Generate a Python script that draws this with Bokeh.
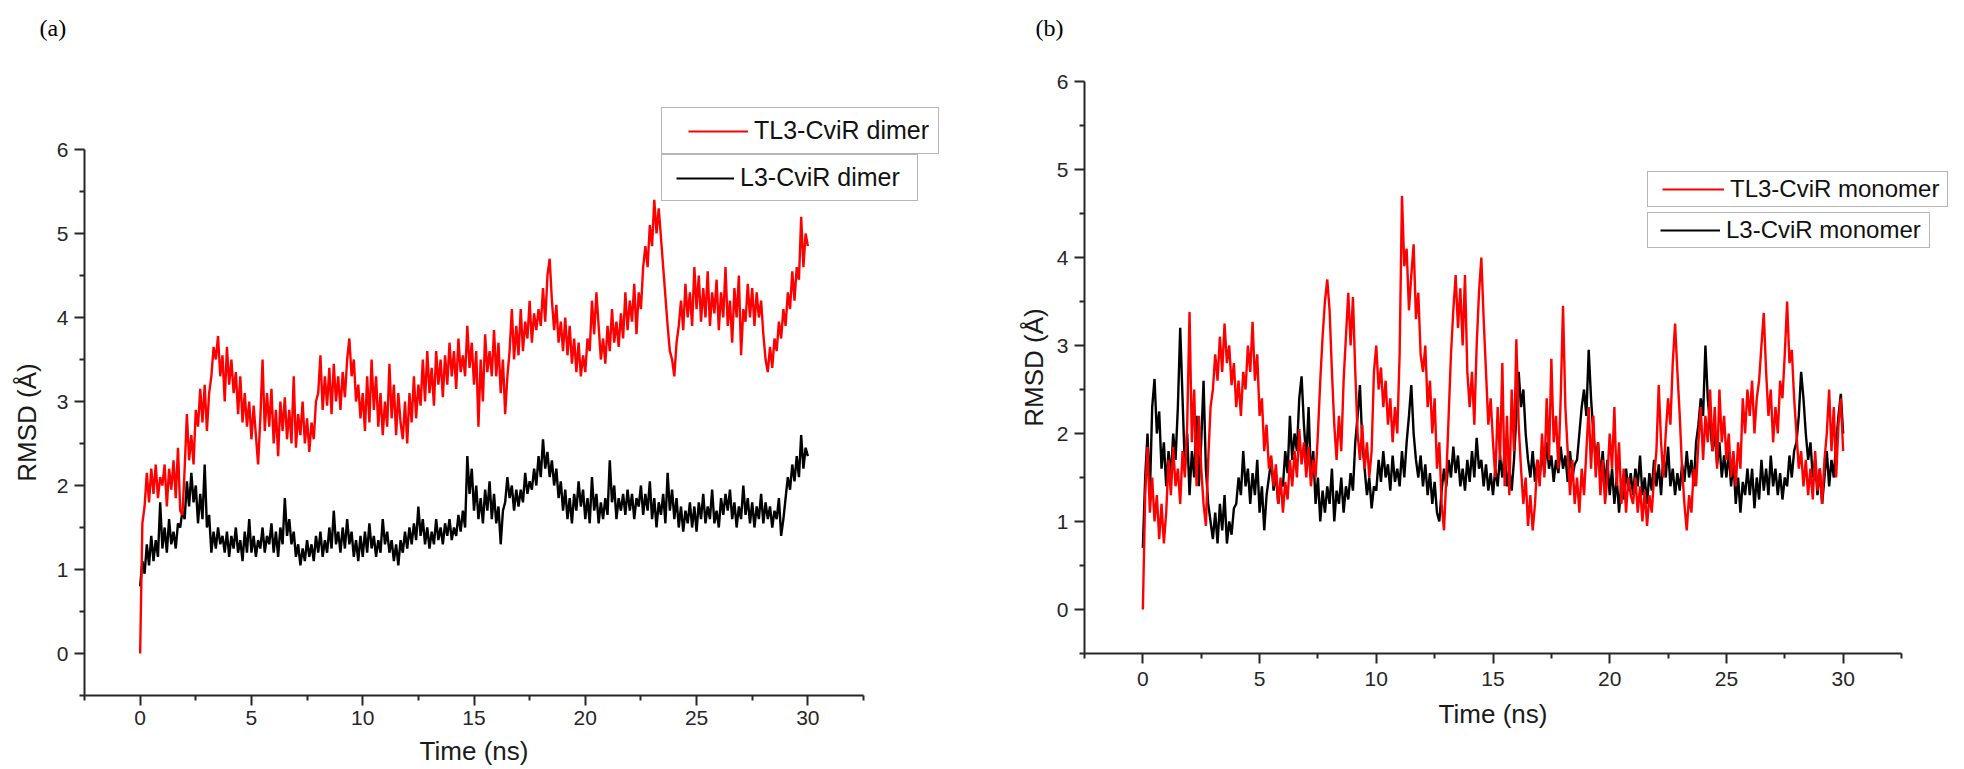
from bokeh.plotting import figure
from bokeh.models import (ColumnDataSource, Range1d, FixedTicker, Legend, LegendItem, Label)
from bokeh.embed import file_html
from bokeh.resources import INLINE

time_step_ns = 0.1

dimer_tl3 = [
    0.0, 1.55, 1.75, 2.15, 1.8, 2.2, 1.9, 2.25, 1.85, 2.1,
    2.0, 2.25, 1.75, 2.2, 1.95, 2.3, 1.85, 2.45, 1.7, 1.65,
    2.2, 2.85, 2.3, 2.6, 2.25, 2.9, 2.7, 3.15, 2.75, 3.2,
    2.65, 3.1, 3.3, 3.65, 3.5, 3.78, 3.3, 3.55, 3.0, 3.65,
    3.2, 3.5, 3.1, 3.35, 2.85, 3.3, 2.75, 3.1, 2.7, 3.0,
    2.55, 2.95, 2.6, 2.25, 2.8, 3.5, 2.65, 3.1, 2.7, 3.15,
    2.5, 2.9, 2.35, 3.0, 2.65, 3.05, 2.55, 2.9, 2.5, 3.3,
    2.45, 2.85, 2.6, 3.0, 2.5, 2.8, 2.4, 2.75, 2.55, 3.0,
    3.1, 3.55, 2.9, 3.3, 2.95, 3.4, 2.85, 3.45, 3.0, 3.3,
    2.9, 3.35, 3.05, 3.5, 3.75, 3.3, 3.5, 3.0, 3.2, 2.8,
    3.1, 2.65, 3.3, 2.75, 3.5, 2.9, 3.3, 2.7, 3.1, 2.6,
    3.0, 2.7, 3.45, 2.8, 3.2, 2.6, 3.1, 2.75, 2.55, 3.0,
    2.5, 3.1, 2.75, 3.3, 2.8, 3.2, 2.95, 3.5, 3.0, 3.6,
    3.1, 3.4, 2.95, 3.6, 3.2, 3.5, 3.05, 3.55, 3.2, 3.7,
    3.3, 3.6, 3.15, 3.75, 3.35, 3.55, 3.3, 3.9, 3.4, 3.7,
    3.2, 3.6, 2.7, 3.5, 3.0, 3.8, 3.35, 3.6, 3.3, 3.85,
    3.3, 3.7, 3.1, 3.5, 2.85, 3.3, 3.6, 4.1, 3.5, 3.9,
    3.55, 4.1, 3.6, 3.95, 3.75, 4.2, 3.7, 4.05, 3.85, 4.1,
    3.9, 4.35, 3.95, 4.5, 4.7, 4.2, 3.85, 4.15, 3.7, 3.95,
    3.6, 4.0, 3.55, 3.9, 3.45, 3.75, 3.35, 3.7, 3.3, 3.55,
    3.35, 3.75, 3.6, 4.2, 3.8, 4.3, 3.9, 3.5, 3.75, 3.45,
    3.9, 3.6, 4.1, 3.7, 3.95, 3.65, 4.05, 3.75, 4.3, 3.85,
    4.2, 3.95, 4.4, 3.8, 4.3, 4.1, 4.6, 4.85, 4.6, 5.1,
    4.85, 5.4, 5.0, 5.3, 4.95, 4.6, 4.25, 3.9, 3.6, 3.5,
    3.3, 3.7, 3.9, 4.2, 3.85, 4.4, 4.0, 4.3, 3.9, 4.6,
    4.1, 4.5, 3.95, 4.35, 4.0, 4.55, 3.9, 4.3, 4.05, 4.45,
    3.85, 4.3, 4.0, 4.6, 3.9, 4.2, 3.7, 4.35, 4.0, 4.5,
    3.55, 4.1, 3.95, 4.4, 4.0, 4.35, 3.9, 4.3, 4.0, 4.2,
    3.8, 3.5, 3.35, 3.65, 3.4, 3.75, 3.6, 3.95, 3.75, 4.1,
    3.9, 4.3, 4.1, 4.55, 4.2, 4.6, 4.45, 5.2, 4.6, 5.0, 4.85,
]

dimer_l3 = [
    0.8, 1.1, 0.95, 1.3, 1.05, 1.4, 1.1, 1.35, 1.15, 1.8,
    1.25, 1.5, 1.2, 1.6, 1.3, 1.45, 1.25, 1.55, 1.5, 1.7,
    1.6, 2.05, 1.75, 2.15, 1.8, 2.0, 1.55, 1.9, 1.6, 2.25,
    1.5, 1.65, 1.2, 1.45, 1.25, 1.5, 1.3, 1.4, 1.2, 1.45,
    1.15, 1.4, 1.25, 1.5, 1.2, 1.35, 1.1, 1.45, 1.2, 1.6,
    1.2, 1.4, 1.15, 1.35, 1.25, 1.5, 1.2, 1.4, 1.3, 1.55,
    1.2, 1.45, 1.15, 1.5, 1.3, 1.85, 1.4, 1.6, 1.3, 1.45,
    1.15, 1.3, 1.05, 1.25, 1.1, 1.35, 1.15, 1.3, 1.1, 1.4,
    1.2, 1.45, 1.15, 1.35, 1.2, 1.5, 1.25, 1.7, 1.3, 1.45,
    1.2, 1.5, 1.25, 1.6, 1.3, 1.45, 1.15, 1.35, 1.1, 1.4,
    1.15, 1.45, 1.2, 1.55, 1.25, 1.4, 1.15, 1.35, 1.2, 1.6,
    1.3, 1.45, 1.2, 1.35, 1.1, 1.3, 1.05, 1.35, 1.2, 1.45,
    1.25, 1.5, 1.3, 1.55, 1.35, 1.75, 1.4, 1.6, 1.3, 1.5,
    1.25, 1.45, 1.3, 1.6, 1.35, 1.5, 1.3, 1.55, 1.4, 1.6,
    1.35, 1.5, 1.4, 1.65, 1.45, 1.7, 1.5, 2.35, 1.9, 2.2,
    1.7, 2.0, 1.6, 1.85, 1.55, 1.95, 1.7, 2.05, 1.6, 1.9,
    1.55, 1.75, 1.3, 1.7, 1.8, 2.1, 1.85, 2.0, 1.7, 1.95,
    1.75, 1.95, 1.8, 2.15, 1.9, 2.05, 1.95, 2.2, 2.0, 2.35,
    2.1, 2.55, 2.2, 2.4, 2.1, 2.3, 2.0, 2.2, 1.85, 2.05,
    1.7, 1.95, 1.6, 1.85, 1.55, 1.9, 1.7, 2.05, 1.75, 1.95,
    1.6, 1.85, 1.55, 2.1, 1.7, 1.9, 1.55, 1.8, 1.6, 1.85,
    1.65, 2.3, 1.8, 2.0, 1.6, 1.85, 1.7, 1.9, 1.65, 1.95,
    1.7, 1.9, 1.6, 1.85, 1.75, 2.0, 1.65, 1.9, 1.7, 2.05,
    1.6, 1.85, 1.5, 1.8, 1.65, 1.9, 1.55, 2.15, 1.7, 1.95,
    1.6, 1.85, 1.5, 1.75, 1.45, 1.7, 1.55, 1.8, 1.5, 1.75,
    1.45, 1.8, 1.6, 1.9, 1.55, 1.75, 1.6, 1.95, 1.55, 1.7,
    1.5, 1.85, 1.65, 1.9, 1.7, 1.95, 1.6, 1.8, 1.5, 1.75,
    1.6, 2.0, 1.65, 1.85, 1.55, 1.8, 1.5, 1.75, 1.6, 1.9,
    1.55, 1.8, 1.6, 1.75, 1.5, 1.7, 1.6, 1.85, 1.4, 1.6,
    1.85, 2.1, 1.95, 2.25, 2.05, 2.35, 2.1, 2.6, 2.2, 2.45, 2.35,
]

monomer_tl3 = [
    0.0, 1.3, 1.85, 1.1, 1.5, 1.0, 1.3, 0.8, 1.2, 0.75,
    1.1, 1.7, 1.3, 1.85, 1.4, 1.6, 1.2, 1.8, 1.5, 2.1,
    3.38, 1.9, 2.5, 1.4, 2.2, 1.6, 1.2, 0.95, 1.7, 2.3,
    2.5, 2.9, 2.6, 3.1, 2.7, 3.25, 2.8, 3.0, 2.55, 2.8,
    2.3, 2.6, 2.2, 2.7, 2.5, 3.0, 2.7, 3.27, 2.6, 2.9,
    2.2, 2.4, 1.8, 2.1, 1.6, 1.75, 1.4, 1.65, 1.2, 1.5,
    1.1, 1.45, 1.25, 1.7, 1.4, 1.8, 1.5, 2.05, 1.65, 1.9,
    1.5, 1.85, 1.4, 1.7, 1.5, 2.0, 2.6, 3.1, 3.5, 3.75,
    3.4, 2.7, 2.1, 1.7, 2.2, 1.8, 2.6, 3.1, 3.6, 3.0,
    3.55, 2.7, 2.0, 1.7, 2.1, 1.6, 1.9, 1.5, 1.8, 2.7,
    3.0, 2.5, 2.75, 2.3, 2.6, 2.1, 2.4, 1.9, 2.3, 2.0,
    2.9, 4.7, 3.9, 4.1, 3.4, 3.8, 4.15, 3.3, 3.6, 2.9,
    2.7, 3.0, 2.3, 2.6, 2.0, 2.4, 1.6, 1.9, 1.2, 0.9,
    1.5, 2.2, 2.9, 3.4, 3.8, 3.2, 3.65, 3.0, 3.8, 2.7,
    2.3, 2.7, 2.1, 3.0, 3.6, 4.0, 3.3, 2.7, 2.1, 2.4,
    1.9, 1.5, 2.3, 1.7, 2.8, 1.4, 2.2, 1.3, 2.5, 1.8,
    3.07, 2.1, 1.6, 1.2, 1.5, 0.95, 1.3, 0.9, 1.2, 1.7,
    1.4, 2.0, 1.5, 2.4, 1.7, 2.85, 1.9, 2.2, 1.6, 2.4,
    3.45, 2.3, 1.8, 1.3, 1.7, 1.2, 1.5, 1.1, 1.6, 1.3,
    1.8, 2.3, 1.6, 2.2, 1.5, 1.9, 1.3, 1.7, 1.2, 1.5,
    2.0, 1.6, 2.3, 1.4, 1.9, 1.2, 1.6, 1.1, 1.5, 1.3,
    1.2, 1.5, 1.1, 1.4, 1.0, 1.35, 0.95, 1.3, 1.1, 1.5,
    1.8, 2.55, 1.9, 1.5, 2.0, 2.4, 2.1, 2.8, 3.25, 2.7,
    2.2, 1.6, 1.2, 0.9, 1.3, 1.1, 1.6, 1.4, 1.9, 2.3,
    1.7, 2.2, 1.9, 2.5, 1.8, 2.3, 1.6, 2.5, 1.9, 2.2,
    1.7, 2.0, 1.5, 1.8, 1.4, 1.9, 1.6, 2.4, 2.0, 2.5,
    2.2, 2.6, 2.0, 2.4, 2.6, 3.0, 3.37, 2.7, 2.2, 2.5,
    1.9, 2.3, 2.0, 2.6, 2.4, 2.9, 3.5, 2.8, 2.95, 2.4,
    2.0, 1.6, 1.8, 1.4, 1.7, 1.3, 1.6, 1.25, 1.8, 1.35,
    1.6, 1.2, 1.7, 2.0, 2.5, 1.8, 2.3, 1.5, 2.1, 2.4, 1.8,
]

monomer_l3 = [
    0.7, 1.5, 2.0, 1.3, 2.3, 2.62, 2.0, 2.25, 1.6, 1.9,
    1.4, 1.8, 1.5, 2.0, 1.7, 2.3, 3.2, 2.4, 1.6, 2.0,
    1.3, 1.8, 1.5, 2.2, 1.4, 1.9, 2.6, 1.6, 1.2, 1.0,
    0.8, 1.1, 0.75, 1.2, 0.9, 1.3, 0.75, 1.0, 0.85, 1.15,
    1.2, 1.5, 1.3, 1.8, 1.4, 1.6, 1.2, 1.55, 1.3, 1.7,
    1.1, 1.4, 0.9, 1.3, 1.5, 1.7, 1.35, 1.55, 1.2, 1.45,
    1.4, 1.8, 1.55, 2.2, 1.7, 2.0, 1.8, 2.4, 2.65, 2.1,
    1.7, 2.3, 1.5, 1.8, 1.2, 1.5, 1.0, 1.35, 1.1, 1.4,
    1.2, 1.6, 1.0, 1.35, 1.2, 1.5, 1.1, 1.4, 1.25, 1.55,
    1.35, 1.9, 2.2, 2.55, 1.9, 1.6, 1.3, 1.5, 1.15, 1.4,
    1.35, 1.7, 1.45, 1.8, 1.5, 1.65, 1.35, 1.75, 1.45, 1.6,
    1.4, 1.8, 1.5, 1.9, 2.2, 2.55, 2.0, 1.7, 1.5, 1.75,
    1.4, 1.65, 1.3, 1.55, 1.2, 1.45, 1.1, 1.0, 1.35, 1.6,
    1.4, 1.7, 1.5, 1.85, 1.55, 1.75, 1.4, 1.6, 1.35, 1.7,
    1.45, 1.8, 1.5, 1.95, 1.6, 1.7, 1.4, 1.65, 1.35, 1.55,
    1.3, 1.6, 1.4, 1.75, 1.5, 1.8, 1.4, 1.6, 1.35, 1.7,
    2.2, 2.7, 2.3, 2.5, 2.0, 1.7, 1.5, 1.8, 1.45, 1.7,
    1.5, 1.8, 1.55, 1.9, 1.6, 1.75, 1.45, 1.7, 1.55, 1.85,
    1.6, 1.75, 1.45, 1.8, 1.5, 1.65, 1.7, 2.0, 2.3, 2.5,
    2.2, 2.95, 2.4, 2.0, 1.7, 1.9, 1.5, 1.8, 1.4, 1.7,
    1.3, 1.6, 1.2, 1.5, 1.1, 1.45, 1.25, 1.6, 1.35, 1.55,
    1.3, 1.6, 1.4, 1.75, 1.3, 1.5, 1.2, 1.55, 1.35, 1.7,
    1.4, 1.65, 1.3, 1.75, 1.5, 1.85, 1.4, 1.6, 1.3, 1.55,
    1.35, 1.65, 1.45, 1.8, 1.5, 1.7, 1.4, 1.9, 2.1, 2.4,
    2.2, 3.0, 2.4, 2.1, 1.8, 2.0, 1.65, 1.9, 1.5, 1.75,
    1.5, 1.8, 1.4, 1.7, 1.2, 1.5, 1.1, 1.45, 1.3, 1.6,
    1.3, 1.6, 1.15, 1.5, 1.25, 1.7, 1.35, 1.6, 1.3, 1.75,
    1.4, 1.6, 1.3, 1.55, 1.25, 1.5, 1.4, 1.75, 1.5, 1.8,
    1.9, 2.2, 2.7, 2.4, 2.0, 1.7, 1.9, 1.5, 1.7, 1.3,
    1.6, 1.2, 1.5, 1.8, 1.4, 1.7, 1.5, 1.9, 2.2, 2.45, 2.0,
]

x_major_ticks = [0, 5, 10, 15, 20, 25, 30]
x_minor_ticks = [-2.5, 2.5, 7.5, 12.5, 17.5, 22.5, 27.5, 32.5]
y_major_ticks = [0, 1, 2, 3, 4, 5, 6]
y_minor_ticks = [-0.5, 0.5, 1.5, 2.5, 3.5, 4.5, 5.5]

legend_dimer = ["TL3-CviR dimer", "L3-CviR dimer"]
legend_monomer = ["TL3-CviR monomer", "L3-CviR monomer"]
x_label = "Time (ns)"
y_label = "RMSD (\u00c5)"
panel_tags = ["(a)", "(b)"]

SANS = "Liberation Sans"
SERIF = "Liberation Serif"
AXIS_COLOR = "#262626"
RED = "#ff0000"
BLACK = "#000000"
LINE_W = 2.4
KEY_LINE_W = 2


def times_for(values):
    return [round(i * time_step_ns, 1) for i in range(len(values))]


def place(p, left, top):
    p.styles = {"position": "absolute", "left": "%dpx" % left, "top": "%dpx" % top}


def make_panel(page_left, page_top, width, height, frame_width, border_left, border_top, border_bottom,
               tl3, l3, tick_standoff, xlabel_standoff, ylabel_standoff):
    p = figure(width=width, height=height, output_backend="svg", toolbar_location=None,
               title=None, x_range=Range1d(-2.5, 32.5), y_range=Range1d(-0.5, 6))
    p.min_border_left = border_left
    p.min_border_top = border_top
    p.min_border_bottom = border_bottom
    p.min_border_right = width - border_left - frame_width
    p.outline_line_color = None
    p.background_fill_color = "white"
    p.border_fill_color = "white"
    p.xgrid.visible = False
    p.ygrid.visible = False
    place(p, page_left, page_top)

    src = ColumnDataSource(dict(time=times_for(tl3), tl3=tl3, l3=l3))
    p.line("time", "l3", source=src, line_color=BLACK, line_width=LINE_W)
    p.line("time", "tl3", source=src, line_color=RED, line_width=LINE_W)

    p.xaxis.ticker = FixedTicker(ticks=x_major_ticks, minor_ticks=x_minor_ticks)
    p.yaxis.ticker = FixedTicker(ticks=y_major_ticks, minor_ticks=y_minor_ticks)
    p.xaxis.axis_label = x_label
    p.yaxis.axis_label = y_label
    for ax in (p.xaxis[0], p.yaxis[0]):
        ax.axis_line_color = AXIS_COLOR
        ax.axis_line_width = 2
        ax.major_tick_line_color = AXIS_COLOR
        ax.major_tick_line_width = 2
        ax.minor_tick_line_color = AXIS_COLOR
        ax.minor_tick_line_width = 2
        ax.major_tick_out = 10
        ax.major_tick_in = 0
        ax.minor_tick_out = 5
        ax.minor_tick_in = 0
        ax.major_label_text_font = SANS
        ax.major_label_text_font_size = "21px"
        ax.major_label_text_color = AXIS_COLOR
        ax.axis_label_text_font = SANS
        ax.axis_label_text_font_size = "26px"
        ax.axis_label_text_font_style = "normal"
        ax.axis_label_text_color = "#1a1a1a"
    p.xaxis[0].major_label_standoff = tick_standoff
    p.yaxis[0].major_label_standoff = 6
    p.xaxis[0].axis_label_standoff = xlabel_standoff
    p.yaxis[0].axis_label_standoff = ylabel_standoff
    return p


# panel (a): frame at page x 83..863, y 149..696
p1 = make_panel(page_left=8, page_top=8, width=992, height=760, frame_width=780,
                border_left=75, border_top=141, border_bottom=72,
                tl3=dimer_tl3, l3=dimer_l3,
                tick_standoff=5, xlabel_standoff=8, ylabel_standoff=12)

# panel (b): frame at page x 1084..1901, y 81..653
p2 = make_panel(page_left=1000, page_top=8, width=962, height=760, frame_width=817,
                border_left=84, border_top=73, border_bottom=115,
                tl3=monomer_tl3, l3=monomer_l3,
                tick_standoff=8, xlabel_standoff=10, ylabel_standoff=5)

# transparent overlay carrying the legend boxes and panel tags (they sit partly outside the data frames).
# It reaches off-screen to the left; its own segment copies of the series are drawn there and only
# serve as the legend keys (a segment key is drawn as one straight stroke).
OV_LEFT, OV_TOP = -1000, 8
OV_W, OV_H = 2956, 753
ov = figure(width=OV_W, height=OV_H, output_backend="svg", toolbar_location=None, title=None,
            x_axis_type=None, y_axis_type=None, x_range=Range1d(-5, 110), y_range=Range1d(-1, 7),
            min_border=0)
ov.min_border_left = 0
ov.min_border_right = 0
ov.min_border_top = 0
ov.min_border_bottom = 0
ov.outline_line_color = None
ov.background_fill_alpha = 0
ov.border_fill_alpha = 0
place(ov, OV_LEFT, OV_TOP)


def key_renderer(values, color):
    t = times_for(values)
    return ov.segment(x0=t[:-1], y0=values[:-1], x1=t[1:], y1=values[1:],
                      line_color=color, line_width=KEY_LINE_W)


key_dimer_red = key_renderer(dimer_tl3, RED)
key_dimer_black = key_renderer(dimer_l3, BLACK)
key_mono_red = key_renderer(monomer_tl3, RED)
key_mono_black = key_renderer(monomer_l3, BLACK)


def set_legend_padding(leg, left, right, tb):
    try:
        leg.padding = dict(left=left, right=right, top=tb, bottom=tb)
    except Exception:
        leg.padding = tb


def add_key(label, rend, page_x, page_bottom, glyph_w, pad_left, pad_right, pad_tb, font_size):
    leg = Legend(items=[LegendItem(label=label, renderers=[rend], index=0)],
                 location=(page_x - OV_LEFT, OV_TOP + OV_H - page_bottom))
    leg.margin = 0
    leg.spacing = 0
    leg.glyph_width = glyph_w
    leg.glyph_height = 20
    leg.label_height = 20
    leg.label_standoff = 6
    leg.label_text_font = SANS
    leg.label_text_font_size = font_size
    leg.label_text_color = "#111111"
    leg.border_line_color = "#6e6e6e"
    leg.border_line_width = 1.5
    leg.background_fill_color = "white"
    leg.background_fill_alpha = 1.0
    set_legend_padding(leg, pad_left, pad_right, pad_tb)
    ov.add_layout(leg)


add_key(legend_dimer[0], key_dimer_red, 661, 154, 60, 26, 9, 8, "25px")
add_key(legend_dimer[1], key_dimer_black, 661, 201, 58, 14, 17, 8, "25px")
add_key(legend_monomer[0], key_mono_red, 1647, 207, 62, 14, 8, 3, "24px")
add_key(legend_monomer[1], key_mono_black, 1647, 248, 60, 12, 8, 3, "24px")

for tag, page_x in zip(panel_tags, [39, 1035]):
    ov.add_layout(Label(x=page_x - OV_LEFT, y=OV_TOP + OV_H - 27, x_units="screen", y_units="screen",
                        text=tag, text_font=SERIF, text_font_size="24px",
                        text_color="black", text_baseline="alphabetic"))

open("out.html", "w").write(file_html([p1, p2, ov], INLINE, title="RMSD"))
